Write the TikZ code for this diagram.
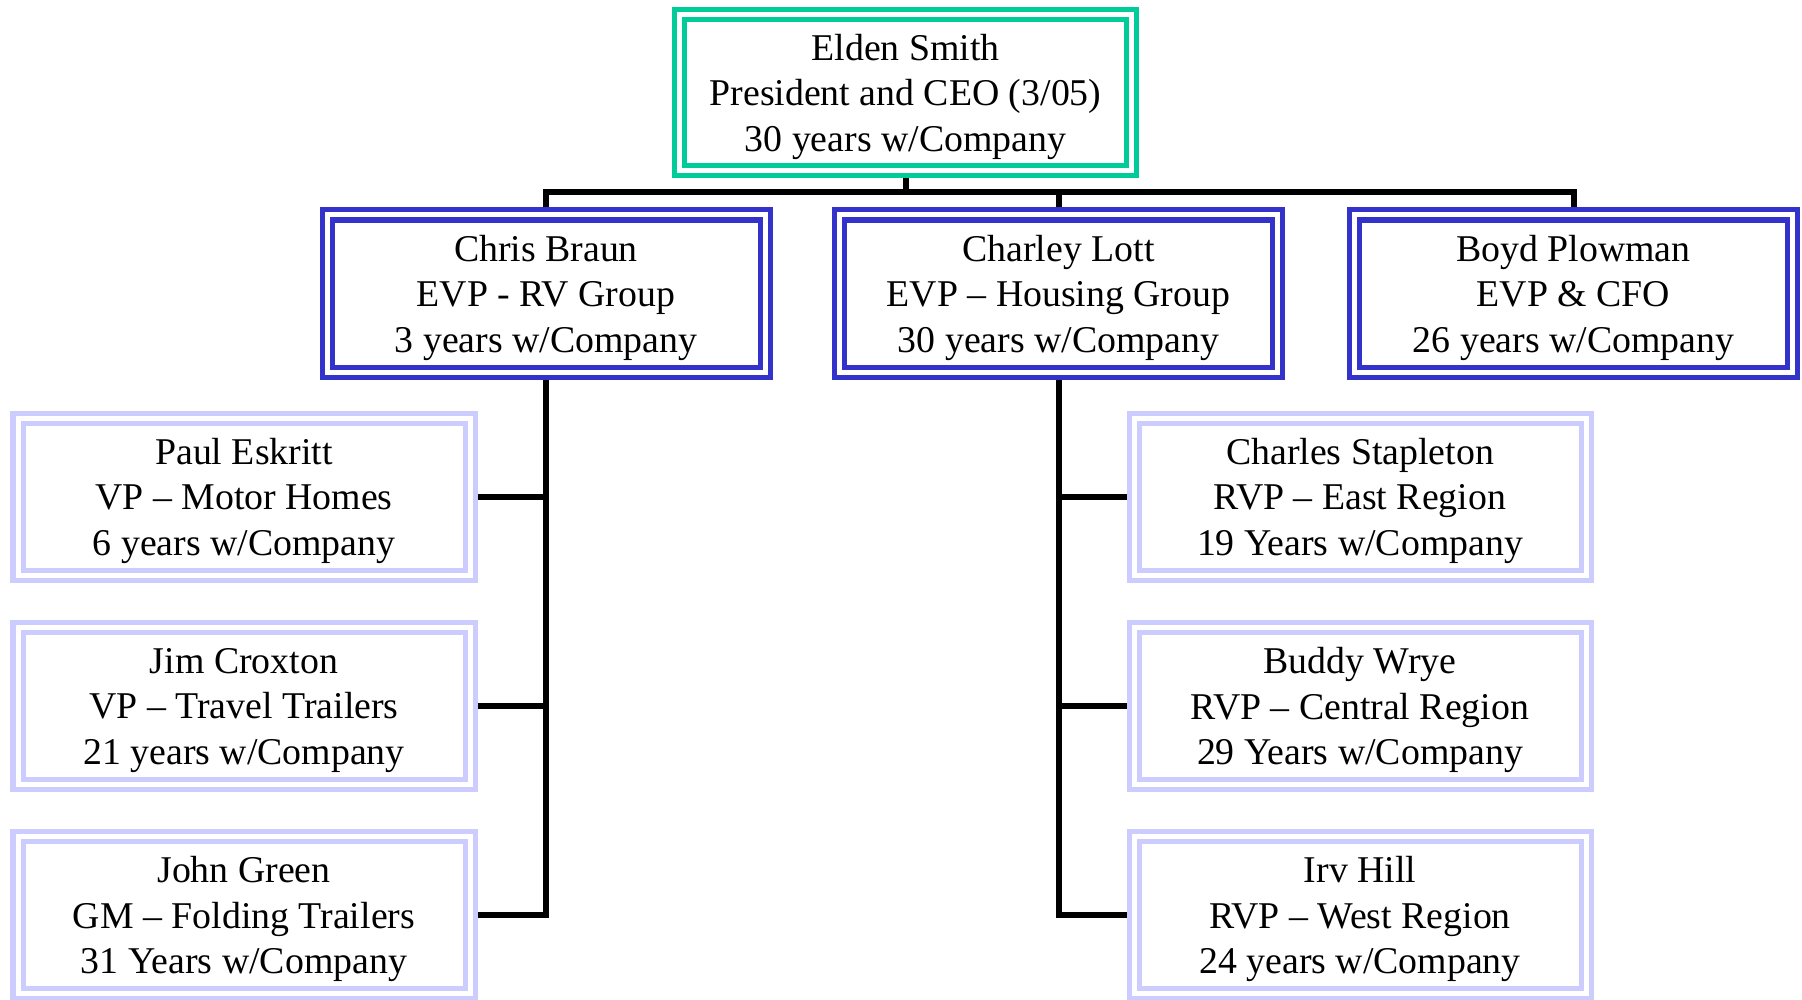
\documentclass[tikz,border=0pt]{standalone}
\usepackage{fontspec}
\setmainfont{Liberation Serif}
\usetikzlibrary{calc}

\definecolor{ceogreen}{RGB}{0,204,153}
\definecolor{evpblue}{RGB}{51,51,204}
\definecolor{vplilac}{RGB}{204,204,255}

\begin{document}
\begin{tikzpicture}[x=1cm,y=1cm]
\tikzset{
  orgbox/.style={rectangle,double=white,double distance=0.05cm,line width=0.05cm,
    outer sep=0.075cm,inner sep=0pt,minimum height=1.57cm,align=center,text depth=-0.085cm,
    font=\fontsize{10.76pt}{12.95pt}\selectfont},
  ceobox/.style={orgbox,draw=ceogreen,minimum width=4.52cm,minimum height=1.56cm},
  evpbox/.style={orgbox,draw=evpblue,minimum width=4.38cm},
  vpbox/.style={orgbox,draw=vplilac,minimum width=4.52cm},
  orgline/.style={line width=0.06cm}
}
\useasboundingbox (0,0) rectangle (18.02,-9.99);
\node[ceobox] (n_smith) at (9.055,-0.925) {Elden Smith\\President and CEO (3/05)\\30 years w/Company};
\node[evpbox] (n_braun) at (5.46,-2.935) {Chris Braun\\EVP - RV Group\\3 years w/Company};
\node[evpbox] (n_lott) at (10.585,-2.935) {Charley Lott\\EVP -- Housing Group\\30 years w/Company};
\node[evpbox] (n_plowman) at (15.735,-2.935) {Boyd Plowman\\EVP \& CFO\\26 years w/Company};
\node[vpbox] (n_eskritt) at (2.44,-4.965) {Paul Eskritt\\VP -- Motor Homes\\6 years w/Company};
\node[vpbox] (n_croxton) at (2.44,-7.06) {Jim Croxton\\VP -- Travel Trailers\\21 years w/Company};
\node[vpbox] (n_green) at (2.44,-9.15) {John Green\\GM -- Folding Trailers\\31 Years w/Company};
\node[vpbox] (n_stapleton) at (13.60,-4.965) {Charles Stapleton\\RVP -- East Region\\19 Years w/Company};
\node[vpbox] (n_wrye) at (13.60,-7.06) {Buddy Wrye\\RVP -- Central Region\\29 Years w/Company};
\node[vpbox] (n_hill) at (13.60,-9.15) {Irv Hill\\RVP -- West Region\\24 years w/Company};
\coordinate (c_bus) at (9.055,-1.92);
\draw[orgline] (n_smith.south) -- (c_bus);
\draw[orgline] (n_braun.north) |- (c_bus) -| (n_plowman.north);
\draw[orgline] (n_lott.north) -- (n_lott.north |- c_bus);
\draw[orgline] (n_braun.south) |- (n_green.east);
\draw[orgline] (n_eskritt.east) -- (n_eskritt.east -| n_braun.south);
\draw[orgline] (n_croxton.east) -- (n_croxton.east -| n_braun.south);
\draw[orgline] (n_lott.south) |- (n_hill.west);
\draw[orgline] (n_stapleton.west) -- (n_stapleton.west -| n_lott.south);
\draw[orgline] (n_wrye.west) -- (n_wrye.west -| n_lott.south);
\end{tikzpicture}
\end{document}
